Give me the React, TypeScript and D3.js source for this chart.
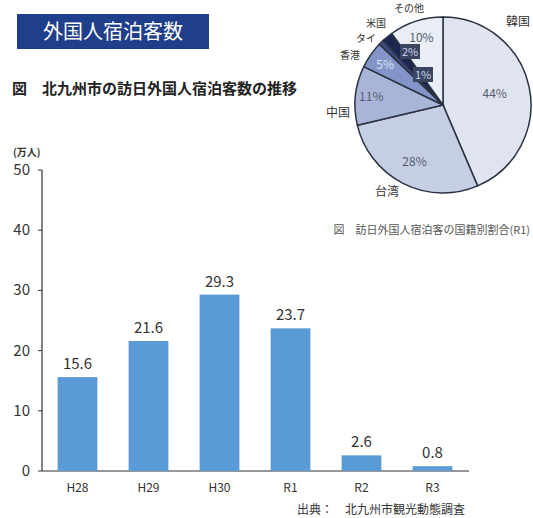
import * as d3 from "d3";

const years = ["H28", "H29", "H30", "R1", "R2", "R3"];
const guests = [15.6, 21.6, 29.3, 23.7, 2.6, 0.8];
const yTicks = [0, 10, 20, 30, 40, 50];

const countries = ["韓国", "台湾", "中国", "香港", "タイ", "米国", "その他"];
const shares = [44, 28, 11, 5, 1, 2, 10];
const sliceColors = ["#dfe4f0", "#c6cee4", "#a9b5d8", "#8294c8", "#3c4a7c", "#1c2750", "#e9edf6"];

const FONT = "'Noto Sans CJK JP', 'Noto Sans', sans-serif";

export default function App() {
  const width = 533;
  const height = 518;

  const x = d3.scaleBand<string>().domain(years).range([42, 468]).paddingInner(0.44).paddingOuter(0.22);
  const y = d3.scaleLinear().domain([0, 50]).range([471, 170]);

  const cx = 443;
  const cy = 105;
  const r = 88;
  const pie = d3.pie<number>().sort(null).value((d) => d);
  const arcs = pie(shares);
  const arc = d3.arc<d3.PieArcDatum<number>>().innerRadius(0).outerRadius(r);

  // label radius fraction inside each slice
  const inner: { [k: string]: number } = {
    "韓国": 0.6,
    "台湾": 0.72,
    "中国": 0.82,
    "香港": 0.8,
    "タイ": 0.45,
    "米国": 0.62,
    "その他": 0.8,
  };
  const outerPos: { [k: string]: [number, number] } = {
    "韓国": [518, 26],
    "台湾": [387, 196],
    "中国": [338, 117],
    "香港": [350, 59],
    "タイ": [366, 42],
    "米国": [376, 27],
    "その他": [409, 12],
  };

  return (
    <svg width={width} height={height} style={{ display: "block", position: "absolute", left: 0, top: 0 }} fontFamily={FONT}>
      <rect width={width} height={height} fill="#ffffff" />

      <rect x={17} y={14} width={192} height={35} fill="#1f3f8a" />
      <text x={113} y={39} textAnchor="middle" fill="#ffffff" fontSize={20}>外国人宿泊客数</text>

      <text x={12} y={94} fontSize={15} fontWeight="bold" fill="#222">図　北九州市の訪日外国人宿泊客数の推移</text>

      {/* pie */}
      <g transform={`translate(${cx},${cy})`}>
        {arcs.map((a, i) => (
          <path key={i} d={arc(a) || ""} fill={sliceColors[i]} stroke="#2a3242" strokeWidth={1.5} />
        ))}
        {arcs.map((a, i) => {
          const mid = (a.startAngle + a.endAngle) / 2;
          const f = inner[countries[i]];
          const px = Math.sin(mid) * r * f;
          const py = -Math.cos(mid) * r * f;
          const label = `${shares[i]}%`;
          if (i === 4 || i === 5) {
            const bx = i === 5 ? -33 : -20;
            const by = i === 5 ? -53 : -30;
            return (
              <g key={i} transform={`translate(${bx},${by})`}>
                <rect x={-10} y={-8} width={20} height={15} fill="#3a4560" />
                <text x={0} y={4} textAnchor="middle" fontSize={11} fill="#c9d3ea">{label}</text>
              </g>
            );
          }
          return (
            <text key={i} x={px} y={py + 4} textAnchor="middle" fontSize={12} fill={i === 3 ? "#dde4f3" : "#555c6e"}>{label}</text>
          );
        })}
      </g>
      {countries.map((c) => (
        <text key={c} x={outerPos[c][0]} y={outerPos[c][1]} textAnchor="middle" fontSize={c === "タイ" || c === "米国" || c === "香港" || c === "その他" ? 10 : 12} fill="#333">{c}</text>
      ))}

      <text x={530} y={234} textAnchor="end" fontSize={11} fill="#555">図　訪日外国人宿泊客の国籍別割合(R1)</text>

      {/* bar chart */}
      <text x={13} y={156} fontSize={10} fontWeight="bold" fill="#333">(万人)</text>
      <line x1={42} x2={42} y1={y(50)} y2={y(0)} stroke="#333" strokeWidth={1.2} />
      <line x1={42} x2={469} y1={y(0)} y2={y(0)} stroke="#333" strokeWidth={1.2} />
      {yTicks.map((t) => (
        <g key={t}>
          <line x1={38} x2={42} y1={y(t)} y2={y(t)} stroke="#333" />
          <text x={30} y={y(t) + 5} textAnchor="end" fontSize={15} fill="#333">{t}</text>
        </g>
      ))}
      {years.map((yr, i) => (
        <g key={yr}>
          <rect x={x(yr)} y={y(guests[i])} width={x.bandwidth()} height={y(0) - y(guests[i])} fill="#5b9bd5" />
          <text x={(x(yr) || 0) + x.bandwidth() / 2} y={y(guests[i]) - 8} textAnchor="middle" fontSize={15} fill="#333">{guests[i].toFixed(1)}</text>
          <text x={(x(yr) || 0) + x.bandwidth() / 2} y={492} textAnchor="middle" fontSize={12} fill="#333">{yr}</text>
        </g>
      ))}

      <text x={465} y={514} textAnchor="end" fontSize={12} fill="#333">出典：　北九州市観光動態調査</text>
    </svg>
  );
}
